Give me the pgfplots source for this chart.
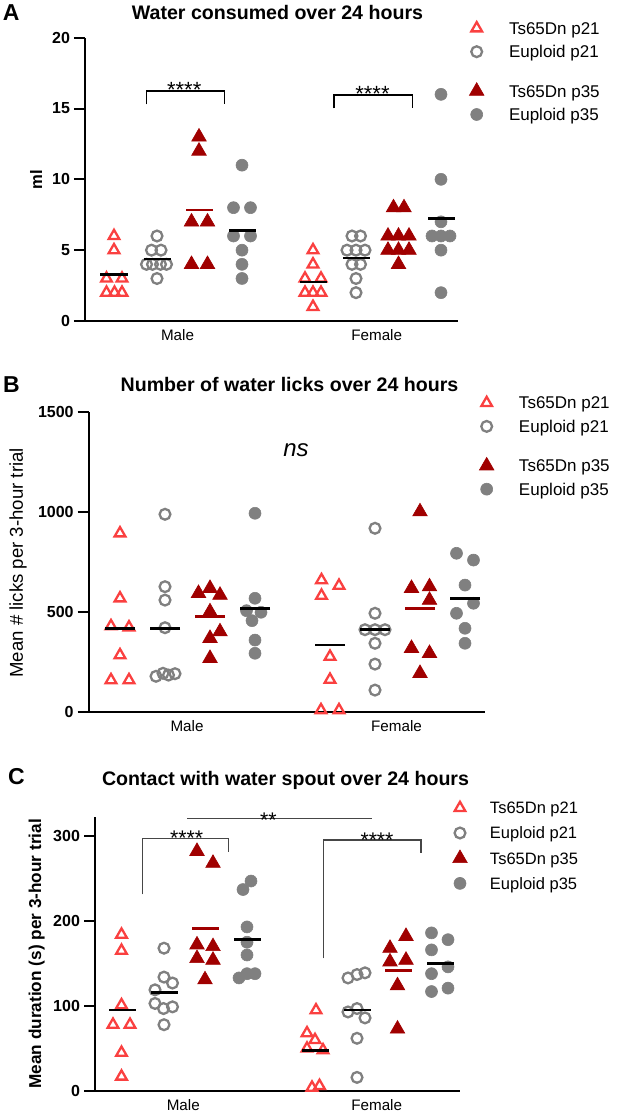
\documentclass[border=0pt]{standalone}
\usepackage{pgfplots}
\pgfplotsset{compat=1.18}
\usepackage{fontspec}
\setmainfont{Liberation Sans}
\definecolor{tsred}{RGB}{250,64,64}
\definecolor{dred}{RGB}{160,0,0}
\definecolor{eg}{RGB}{128,128,128}
\definecolor{brk}{RGB}{70,70,70}
\pgfplotsset{
  panel/.style={
    scale only axis, clip=false,
    axis x line=bottom, axis y line=left,
    axis line style={line width=1pt,-},
    xtick style={draw=none},
    ytick style={line width=1pt,black},
    tick align=outside, major tick length=5.5pt,
    yticklabel style={font=\fontsize{8}{9}\selectfont\bfseries, xshift=1.5pt},
    xticklabel style={font=\fontsize{7.6}{9}\selectfont, yshift=5pt},
    /pgf/number format/assume math mode=true,
    legend image code/.code={\path[draw=none,fill=none] (-4.5pt,-3.5pt) rectangle (4.5pt,3.5pt);\draw[##1] plot coordinates {(0pt,0pt)};},
    legend style={draw=none, fill=none, inner sep=0pt, outer sep=0pt, anchor=north west,
      font=\fontsize{8.5}{10}\selectfont, row sep=3.7pt, column sep=11.65pt,
      nodes={inner sep=0pt, outer sep=0pt, text height=7pt, text depth=1pt}},
    legend cell align=left,
    title style={font=\fontsize{9.8}{11}\selectfont\bfseries, anchor=center, yshift=-6pt},
  },
  tsp/.style={only marks, mark=triangle, mark size=3.1pt, color=tsred, line width=1.15pt, mark options={solid}},
  eup/.style={only marks, mark=o, mark size=2.7pt, color=eg, line width=1.15pt, mark options={solid}},
  tsq/.style={only marks, mark=triangle*, mark size=4.2pt, color=dred, line width=0.3pt, mark options={solid, fill=dred}},
  euq/.style={only marks, mark=*, mark size=3.0pt, color=eg, line width=0.3pt, mark options={solid, fill=eg}},
  mbl/.style={only marks, mark=-, mark size=#1, color=black, line width=1.3pt, mark options={solid}, forget plot},
  mrd/.style={only marks, mark=-, mark size=#1, color=dred, line width=1.3pt, mark options={solid}, forget plot},
}
\begin{document}
\begin{tikzpicture}
\path[use as bounding box] (0,0) rectangle (311.5pt,556.5pt);

% ---------------- Panel A ----------------
\begin{axis}[panel, at={(42.5pt,396pt)}, anchor=south west,
  width=186.5pt, height=141.65pt,
  xmin=85, xmax=458, ymin=0, ymax=20,
  ytick={0,5,10,15,20}, yticklabels={0,5,10,15,20},
  xtick={177.5,376.7}, xticklabels={Male,Female},
  ylabel={ml}, ylabel style={at={(axis description cs:-0.1314,0.5)}, anchor=center, font=\fontsize{8.3}{10}\selectfont\bfseries},
  title={Water consumed over 24 hours}, title style={at={(axis description cs:0.516,1.089)}},
  legend style={at={(axis description cs:1.026,1.0614)}},
]
\addplot[tsp] coordinates {(114,6) (114,5) (106.5,3) (122,3) (106.5,2) (114.5,2) (122,2)
  (313,5) (313,4) (305,3) (321,3) (305,2) (313,2) (321,2) (313,1)};
\addlegendentry{Ts65Dn p21}
\addplot[eup] coordinates {(157,6) (151.5,5) (161,5) (146.5,4) (152.5,4) (160.5,4) (166.5,4) (157,3)
  (352,6) (360.5,6) (347,5) (356,5) (365,5) (352,4) (360.5,4) (356,3) (356,2)};
\addlegendentry{Euploid p21}
\addlegendimage{empty legend}\addlegendentry[text height=4.1pt,text depth=0pt]{}
\addplot[tsq] coordinates {(199,13) (199,12) (191.5,7) (207.5,7) (191.5,4) (207.5,4)
  (393.5,8) (404,8) (388,6) (398.5,6) (409,6) (388,5) (398.5,5) (409,5) (398.5,4)};
\addlegendentry{Ts65Dn p35}
\addplot[euq] coordinates {(242,11) (233.5,8) (250.5,8) (233.5,6) (250.5,6) (242,5) (242,4) (242,3)
  (441,16) (441,10) (441,7) (432,6) (441,6) (450,6) (441,5) (441,2)};
\addlegendentry{Euploid p35}
\addplot[mbl=6.75pt] coordinates {(114,3.29) (157,4.375) (242,6.375) (313,2.75) (356,4.44) (441,7.25)};
\addplot[mrd=6.75pt] coordinates {(199,7.83) (399,5.89)};
\draw[line width=0.75pt] (axis cs:146.7,15.29) -- (axis cs:146.7,16.23) -- (axis cs:224.3,16.23) -- (axis cs:224.3,15.29);
\draw[line width=0.75pt] (axis cs:334,15.01) -- (axis cs:334,15.95) -- (axis cs:412.3,15.95) -- (axis cs:412.3,15.01);
\node[anchor=base, yshift=-3.2pt, font=\fontsize{11}{12}\selectfont] at (axis cs:184.2,16.23) {****};
\node[anchor=base, yshift=-3.2pt, font=\fontsize{11}{12}\selectfont] at (axis cs:372.5,15.95) {****};
\node[font=\fontsize{11.5}{13}\selectfont\bfseries] at (axis description cs:-0.198,1.089) {A};
\end{axis}

% ---------------- Panel B ----------------
\begin{axis}[panel, at={(44.65pt,200.65pt)}, anchor=south west,
  width=197.85pt, height=150pt,
  xmin=89.3, xmax=485, ymin=0, ymax=1500,
  ytick={0,500,1000,1500}, yticklabels={0,500,1000,1500},
  major tick length=5.8pt,
  xtick={187,396.5}, xticklabels={Male,Female},
  ylabel={Mean \# licks per 3-hour trial}, ylabel style={at={(axis description cs:-0.1802,0.496)}, anchor=center, font=\fontsize{9.3}{11}\selectfont},
  title={Number of water licks over 24 hours}, title style={at={(axis description cs:0.506,1.089)}},
  legend style={at={(axis description cs:0.9815,1.0557)}},
]
\addplot[tsp] coordinates {(120,892) (120,567) (111,428) (129,422) (120,283) (111,158) (129,158)
  (321.5,658) (339,630) (321.5,580) (330,275) (330,160) (321,8) (339,8)};
\addlegendentry{Ts65Dn p21}
\addplot[eup] coordinates {(165,987) (165,625) (165,558) (165,420) (156,177) (163,192) (168.5,183) (175,190)
  (375,917) (375,492) (365,410) (375,410) (385,410) (375,342) (375,238) (375,108)};
\addlegendentry{Euploid p21}
\addlegendimage{empty legend}\addlegendentry[text height=4.1pt,text depth=0pt]{}
\addplot[tsq] coordinates {(198.5,592) (210,617) (220,583) (210,500) (220,400) (210,367) (210,267)
  (420,1000) (411.5,617) (429.5,625) (429.5,558) (411.5,317) (429.5,292) (420,192)};
\addlegendentry{Ts65Dn p35}
\addplot[euq] coordinates {(255,992) (255,567) (246.5,505) (261,497) (252,455) (255,358) (255,292)
  (456.5,792) (473.5,758) (465,633) (473.5,542) (456.5,492) (465,417) (465,342)};
\addlegendentry{Euploid p35}
\addplot[mbl=7.5pt] coordinates {(120,415) (165,417) (255,517) (330,333) (375,412) (465,567)};
\addplot[mrd=7.5pt] coordinates {(210,475) (420,517)};
\node[font=\fontsize{12}{14}\selectfont\itshape] at (axis cs:296,1308) {ns};
\node[font=\fontsize{11.5}{13}\selectfont\bfseries] at (axis description cs:-0.1966,1.091) {B};
\end{axis}

% ---------------- Panel C ----------------
\begin{axis}[panel, at={(47.5pt,11pt)}, anchor=south west,
  width=182.5pt, height=137.15pt,
  xmin=95, xmax=460, ymin=0, ymax=322.7,
  ytick={0,100,200,300}, yticklabels={0,100,200,300},
  xtick={183.3,376.7}, xticklabels={Male,Female},
  ylabel={Mean duration (s) per 3-hour trial}, ylabel style={at={(axis description cs:-0.1597,0.5)}, anchor=center, font=\fontsize{8.6}{10}\selectfont\bfseries},
  title={Contact with water spout over 24 hours}, title style={at={(axis description cs:0.522,1.131)}},
  legend style={at={(axis description cs:0.9753,1.0609)}, font=\fontsize{8.25}{10}\selectfont, row sep=4.5pt, column sep=10.5pt},
]
\addplot[tsp] coordinates {(121.5,184) (121.5,165) (121.5,101) (113,78) (130,78) (121.5,45) (121.5,17)
  (316,95) (307,68) (315,60) (307,50) (323,48) (312,4) (319.5,6)};
\addlegendentry{Ts65Dn p21}
\addplot[eup] coordinates {(164,168) (164,134) (155,119) (172.5,127) (155,103) (163.5,97) (172.5,99) (164,78)
  (348,133) (357,137) (365,139) (348,93) (357,97) (365,86) (357,62) (357,16)};
\addlegendentry{Euploid p21}
\addplot[tsq] coordinates {(197,282) (213,268) (197,172) (213,170) (197,156) (213,154) (205,131)
  (406,182) (390,168) (390,152) (406,154) (397.5,124) (397.5,73)};
\addlegendentry{Ts65Dn p35}
\addplot[euq] coordinates {(251,247) (243,237) (247,193) (247,175) (247,160) (239,133) (247,138) (255,138)
  (431.5,186) (448,178) (431.5,166) (448,146) (431.5,138) (431.5,117) (448,121)};
\addlegendentry{Euploid p35}
\addplot[mbl=6.75pt] coordinates {(122,95.4) (164,115.6) (247,178.4) (315.5,47.4) (357,95.4) (440,150.3)};
\addplot[mrd=6.75pt] coordinates {(205,191.4) (398,142)};
\draw[brk, line width=0.65pt] (axis cs:142.7,231.4) -- (axis cs:142.7,297.3) -- (axis cs:228.3,297.3) -- (axis cs:228.3,281.5);
\draw[brk, line width=0.65pt] (axis cs:323.3,156.1) -- (axis cs:323.3,295.3) -- (axis cs:421,295.3) -- (axis cs:421,280.4);
\draw[brk, line width=0.65pt] (axis cs:187.3,320.4) -- (axis cs:371.7,320.4);
\node[anchor=base, yshift=-3.8pt, font=\fontsize{10.6}{12}\selectfont] at (axis cs:186.7,297.3) {****};
\node[anchor=base, yshift=-3.8pt, font=\fontsize{10.6}{12}\selectfont] at (axis cs:377,295.3) {****};
\node[anchor=base, yshift=-4.3pt, font=\fontsize{10.6}{12}\selectfont] at (axis cs:268.3,320.4) {**};
\node[font=\fontsize{11.5}{13}\selectfont\bfseries] at (axis description cs:-0.215,1.1465) {C};
\end{axis}
\end{tikzpicture}
\end{document}
